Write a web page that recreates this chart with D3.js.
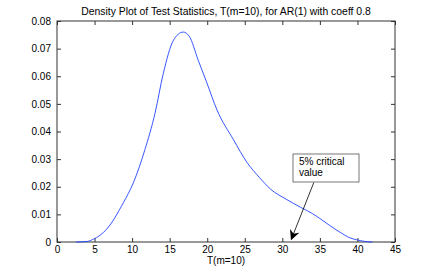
<!DOCTYPE html>
<html>
<head>
<meta charset="utf-8">
<script src="https://cdn.jsdelivr.net/npm/d3@7"></script>
<style>
  body { margin: 0; background: #fff; }
  text { font-family: "Liberation Sans", Arial, sans-serif; }
</style>
</head>
<body>
<div id="chart"></div>
<script>
// density curve
var tVals = [2.5, 4, 4.84, 6.6, 8.83, 10.16, 11.7, 13.05, 14.15, 15.5, 16.8, 17.6, 18.8, 19.9, 21.3, 23.5, 25.3, 27, 28.4, 30.5, 32.4, 34, 35, 36.3, 37.7, 39, 39.9, 41, 42];
var density = [0, 0.0002, 0.001, 0.0046, 0.0142, 0.0214, 0.0334, 0.0466, 0.061, 0.073, 0.076, 0.0745, 0.0658, 0.058, 0.0478, 0.037, 0.0288, 0.0232, 0.0192, 0.0155, 0.0126, 0.0103, 0.0085, 0.006, 0.0035, 0.0015, 0.0008, 0.0002, 0];

var xTicks = [0, 5, 10, 15, 20, 25, 30, 35, 40, 45];
var yTicks = [0, 0.01, 0.02, 0.03, 0.04, 0.05, 0.06, 0.07, 0.08];

var titleText = "Density Plot of Test Statistics, T(m=10), for AR(1) with coeff 0.8";
var xLabel = "T(m=10)";
var noteLines = ["5% critical", "value"];
var arrowFrom = [34.2, 0.0216];
var arrowTo = [31.2, 0.001];

var width = 436, height = 273;
var margin = {top: 21, right: 41, bottom: 31, left: 57};

var svg = d3.select("#chart").append("svg")
    .attr("width", width)
    .attr("height", height);

var x = d3.scaleLinear().domain([0, 45]).range([margin.left, width - margin.right]);
var y = d3.scaleLinear().domain([0, 0.08]).range([height - margin.bottom, margin.top]);

var axisColor = "#333";

// box
svg.append("rect")
    .attr("x", x(0)).attr("y", y(0.08))
    .attr("width", x(45) - x(0)).attr("height", y(0) - y(0.08))
    .attr("fill", "none").attr("stroke", axisColor).attr("stroke-width", 1);

function styleAxis(g, showText) {
    g.select(".domain").remove();
    g.selectAll(".tick line").attr("stroke", axisColor);
    g.selectAll(".tick text").attr("fill", "#000").style("font-size", "10px");
    if (!showText) g.selectAll(".tick text").remove();
}

svg.append("g")
    .attr("transform", "translate(0," + y(0) + ")")
    .call(d3.axisBottom(x).tickValues(xTicks).tickSize(-4).tickPadding(4).tickFormat(d3.format("d")))
    .call(styleAxis, true);
svg.append("g")
    .attr("transform", "translate(0," + y(0.08) + ")")
    .call(d3.axisTop(x).tickValues(xTicks).tickSize(-4))
    .call(styleAxis, false);
svg.append("g")
    .attr("transform", "translate(" + x(0) + ",0)")
    .call(d3.axisLeft(y).tickValues(yTicks).tickSize(-4).tickPadding(6)
        .tickFormat(function (d) { return d === 0 ? "0" : d3.format(".2f")(d); }))
    .call(styleAxis, true);
svg.append("g")
    .attr("transform", "translate(" + x(45) + ",0)")
    .call(d3.axisRight(y).tickValues(yTicks).tickSize(-4))
    .call(styleAxis, false);

// curve
var pts = tVals.map(function (t, i) { return [t, density[i]]; });
var line = d3.line()
    .x(function (d) { return x(d[0]); })
    .y(function (d) { return y(d[1]); })
    .curve(d3.curveMonotoneX);

svg.append("path")
    .datum(pts)
    .attr("d", line)
    .attr("fill", "none")
    .attr("stroke", "#2244ff")
    .attr("stroke-width", 0.9);

// title and label
svg.append("text")
    .attr("x", (x(0) + x(45)) / 2).attr("y", 15)
    .attr("text-anchor", "middle")
    .style("font-size", "10.4px")
    .text(titleText);

svg.append("text")
    .attr("x", (x(0) + x(45)) / 2).attr("y", 264)
    .attr("text-anchor", "middle")
    .style("font-size", "10px")
    .text(xLabel);

// annotation
svg.append("defs").append("marker")
    .attr("id", "head")
    .attr("viewBox", "0 0 10 10")
    .attr("refX", 9).attr("refY", 5)
    .attr("markerWidth", 10).attr("markerHeight", 10)
    .attr("markerUnits", "userSpaceOnUse")
    .attr("orient", "auto")
    .append("path")
    .attr("d", "M0,0 L10,5 L0,10 L3,5 Z")
    .attr("fill", "#000");

svg.append("line")
    .attr("x1", x(arrowFrom[0])).attr("y1", y(arrowFrom[1]))
    .attr("x2", x(arrowTo[0])).attr("y2", y(arrowTo[1]))
    .attr("stroke", "#000").attr("stroke-width", 0.8)
    .attr("marker-end", "url(#head)");

var bx = 293, by = 154;
svg.append("rect")
    .attr("x", bx).attr("y", by)
    .attr("width", 66).attr("height", 28)
    .attr("fill", "#fff").attr("stroke", "#555").attr("stroke-width", 0.8);

svg.append("g").selectAll("text")
    .data(noteLines)
    .enter()
    .append("text")
    .attr("x", bx + 6)
    .attr("y", function (d, i) { return by + 11 + i * 11; })
    .style("font-size", "10px")
    .text(function (d) { return d; });
</script>
</body>
</html>
